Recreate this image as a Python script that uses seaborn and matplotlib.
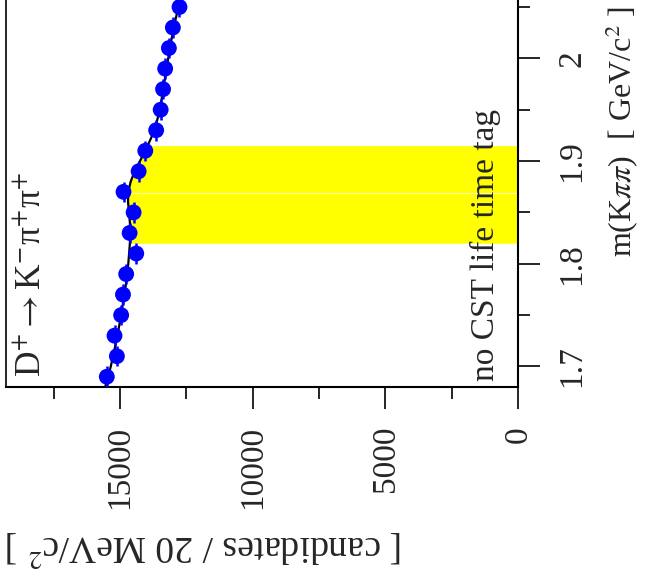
import numpy as np
import pandas as pd
import matplotlib
matplotlib.use("Agg")
import matplotlib.pyplot as plt
import seaborn as sns

# ---- data ----
mass = [1.69, 1.71, 1.73, 1.75, 1.77, 1.79, 1.81, 1.83, 1.85, 1.87,
        1.89, 1.91, 1.93, 1.95, 1.97, 1.99, 2.01, 2.03, 2.05]
counts = [15500, 15120, 15210, 14960, 14890, 14770, 14390, 14640, 14490, 14870,
          14300, 14050, 13640, 13470, 13380, 13300, 13160, 13010, 12760]
bin_half_width = 0.01

fit_mass = [1.68, 1.70, 1.72, 1.74, 1.76, 1.78, 1.80, 1.82, 1.83, 1.84, 1.85,
            1.86, 1.87, 1.88, 1.89, 1.90, 1.915, 1.93, 1.95, 1.97, 1.99,
            2.01, 2.03, 2.05, 2.07]
fit_vals = [15560, 15350, 15180, 15030, 14900, 14780, 14690, 14630, 14620, 14630,
            14660, 14700, 14690, 14600, 14450, 14250, 13960, 13700, 13500, 13370,
            13250, 13120, 12980, 12800, 12620]

signal_lo, signal_hi = 1.82, 1.915
d_mass = 1.869

mass_major = [1.7, 1.8, 1.9, 2.0]
mass_labels = ["1.7", "1.8", "1.9", "2"]
mass_minor = [1.75, 1.85, 1.95, 2.05]
count_major = [0, 5000, 10000, 15000]
count_labels = ["0", "5000", "10000", "15000"]
count_minor = [2500, 7500, 12500, 17500]

# ---- style ----
sns.set_style("ticks")
plt.rcParams["font.family"] = ["Liberation Serif", "DejaVu Serif"]
plt.rcParams["mathtext.fontset"] = "stix"

W, H = 650, 579
fig = plt.figure(figsize=(W / 100, H / 100), dpi=100)
# axes placed in pixel units; the chart is shown rotated by 90 degrees
left_px, right_px, bottom_px = 6, 518, 387
m_lo, m_hi = 1.68, 2.07
px_per_mass = 1027.0
height_px = (m_hi - m_lo) * px_per_mass
ax = fig.add_axes([left_px / W, 1 - bottom_px / H,
                   (right_px - left_px) / W, height_px / H])

df_fit = pd.DataFrame({"mass": fit_mass, "val": fit_vals})
df_pts = pd.DataFrame({"mass": mass, "counts": counts})

# yellow signal region under the fit curve
fm = np.array(fit_mass)
fv = np.array(fit_vals)
sel = (fm >= signal_lo - 1e-9) & (fm <= signal_hi + 1e-9)
ax.fill_betweenx(fm[sel], 0, fv[sel], color="#ffff00", lw=0, zorder=1)
dv = np.interp(d_mass, fm, fv)
ax.plot([0, dv], [d_mass, d_mass], color="#ffffb0", lw=0.8, zorder=1.5)

# fit curve
sns.lineplot(data=df_fit, x="val", y="mass", orient="y", sort=False,
             color="black", lw=1.6, ax=ax, zorder=2)

# data points with error bars
ax.errorbar(df_pts["counts"], df_pts["mass"],
            xerr=np.sqrt(df_pts["counts"]), yerr=bin_half_width,
            fmt="none", ecolor="#0000ff", elinewidth=1.8, zorder=3)
sns.scatterplot(data=df_pts, x="counts", y="mass", color="#0000ff",
                s=130, edgecolor="none", ax=ax, zorder=4)

ax.set_xlim(19300, 0)
ax.set_ylim(m_lo, m_hi)
ax.set_xlabel("")
ax.set_ylabel("")

ax.yaxis.tick_right()
ax.set_yticks(mass_major)
ax.set_yticklabels(mass_labels, rotation=90, va="center", ha="left")
ax.set_yticks(mass_minor, minor=True)
ax.set_xticks(count_major)
ax.set_xticklabels(count_labels, rotation=90, ha="center", va="top")
ax.set_xticks(count_minor, minor=True)

ax.tick_params(axis="both", which="major", length=16, width=1.2,
               direction="out", labelsize=24, pad=12, color="black")
ax.tick_params(axis="both", which="minor", length=8.5, width=1.2,
               direction="out", color="black")
ax.tick_params(axis="y", which="both", left=False, right=True)
ax.tick_params(axis="x", which="both", top=False, bottom=True)

for s in ax.spines.values():
    s.set_linewidth(1.5)
    s.set_color("black")
ax.spines["left"].set_linewidth(1.2)

# annotations
ax.text((32 - left_px) / (right_px - left_px), (bottom_px - 377) / height_px,
        "D$^{+}$$\\rightarrow$K$^{-}$\u03c0$^{+}$\u03c0$^{+}$", rotation=90,
        transform=ax.transAxes, ha="center", va="bottom", fontsize=25.5)
ax.text((485 - left_px) / (right_px - left_px), (bottom_px - 381) / height_px,
        "no CST life time tag", rotation=90, transform=ax.transAxes,
        ha="center", va="bottom", fontsize=24)

fig.text(622 / W, 1 - 257 / H, r"m(K$\pi\pi$)  [ GeV/c$^{2}$ ]",
         rotation=90, ha="center", va="bottom", fontsize=23)
fig.text(205 / W, 1 - 548 / H, r"[ candidates / 20 MeV/c$^{2}$ ]",
         rotation=180, ha="center", va="center", fontsize=27)

fig.savefig("out.png", dpi=100)
